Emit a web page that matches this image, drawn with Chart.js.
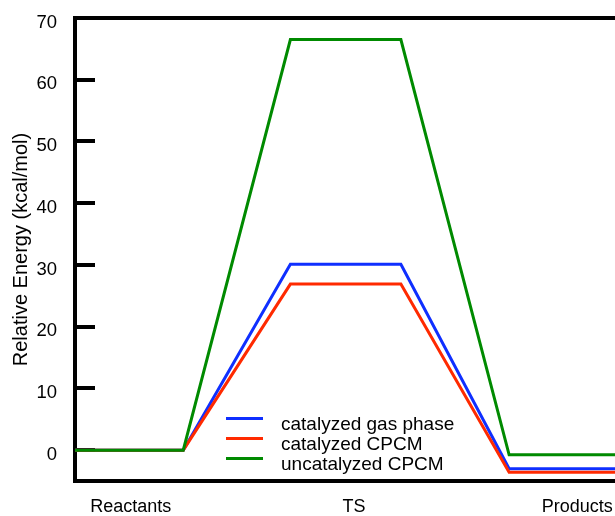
<!DOCTYPE html>
<html>
<head>
<meta charset="utf-8">
<script src="https://cdn.jsdelivr.net/npm/chart.js@4/dist/chart.umd.min.js"></script>
<style>
  html, body { margin: 0; padding: 0; overflow: hidden; background: #fff; }
  #wrap { width: 660px; height: 516px; }
</style>
</head>
<body>
<div id="wrap"><canvas id="c" width="660" height="516"></canvas></div>
<script>
// Reaction stages along the x axis and where their labels sit
const stages = ['Reactants', 'TS', 'Products'];
const stagePositions = [0.5, 2.5, 4.5];

// Reaction coordinate of each vertex of the energy profiles
const reactionCoord = [0, 0.97, 1.93, 2.92, 3.89, 5];

// Relative energies (kcal/mol)
const catalyzedGas    = [0, 0, 30.1, 30.1, -3.0, -3.0];
const catalyzedCPCM   = [0, 0, 26.9, 26.9, -3.6, -3.6];
const uncatalyzedCPCM = [0, 0, 66.5, 66.5, -0.75, -0.75];

const energyTicks = [0, 10, 20, 30, 40, 50, 60, 70];

const seriesNames  = ['catalyzed gas phase', 'catalyzed CPCM', 'uncatalyzed CPCM'];
const seriesColors = ['#0f2fff', '#ff2a00', '#008a00'];
const seriesValues = [catalyzedGas, catalyzedCPCM, uncatalyzedCPCM];

const FONT = '"Liberation Sans", Arial, Helvetica, sans-serif';

// Legend drawn inside the plot area, below the transition-state plateau
const inlineLegend = {
  id: 'inlineLegend',
  afterDatasetsDraw(chart, args, opts) {
    const ctx = chart.ctx;
    ctx.save();
    ctx.font = opts.fontSize + 'px ' + FONT;
    ctx.textBaseline = 'alphabetic';
    ctx.textAlign = 'left';
    seriesNames.forEach((name, i) => {
      const y = opts.top + i * opts.rowGap;
      ctx.strokeStyle = seriesColors[i];
      ctx.lineWidth = 3;
      ctx.lineCap = 'butt';
      ctx.beginPath();
      ctx.moveTo(opts.x, y);
      ctx.lineTo(opts.x + opts.lineLen, y);
      ctx.stroke();
      ctx.fillStyle = '#000';
      ctx.fillText(name, opts.x + opts.lineLen + opts.gap, y + opts.baselineShift);
    });
    ctx.restore();
  }
};

const datasets = seriesNames.map((name, i) => ({
  label: name,
  data: reactionCoord.map((x, j) => ({ x: x, y: seriesValues[i][j] })),
  borderColor: seriesColors[i],
  backgroundColor: seriesColors[i],
  borderWidth: 3,
  pointRadius: 0,
  tension: 0,
  fill: false,
  order: 2 - i   // green drawn on top where the profiles overlap
}));

new Chart(document.getElementById('c'), {
  type: 'line',
  data: { datasets: datasets },
  options: {
    responsive: false,
    animation: false,
    layout: { padding: { top: 18, right: 27, bottom: 0, left: 0 } },
    plugins: {
      legend: { display: false },
      tooltip: { enabled: false },
      inlineLegend: { x: 226, lineLen: 37, gap: 18, top: 418.5, rowGap: 20, fontSize: 19, baselineShift: 11 }
    },
    scales: {
      x: {
        type: 'linear',
        position: 'bottom',
        min: 0,
        max: 5,
        grid: { display: false, drawTicks: false },
        border: { display: true, color: '#000', width: 4 },
        ticks: {
          autoSkip: false,
          maxRotation: 0,
          padding: 15,
          color: '#000',
          font: { family: FONT, size: 18 },
          callback: (v, i) => stages[i]
        },
        afterBuildTicks: s => { s.ticks = stagePositions.map(v => ({ value: v })); },
        afterFit: s => { s.height = 35; s.paddingLeft = 0; s.paddingRight = 0; }
      },
      xTop: {
        type: 'linear',
        position: 'top',
        min: 0,
        max: 5,
        grid: { display: false, drawTicks: false },
        border: { display: true, color: '#000', width: 4 },
        ticks: { display: false },
        afterFit: s => { s.height = 0; }
      },
      y: {
        min: -5,
        max: 70,
        grid: {
          display: true,
          drawOnChartArea: false,
          drawTicks: true,
          tickLength: -20,   // tick marks point into the plot
          tickWidth: 4,
          tickColor: '#000',
          lineWidth: 4,
          color: '#000'
        },
        border: { display: true, color: '#000', width: 4 },
        ticks: {
          padding: 38,
          labelOffset: 4.5,
          color: '#000',
          font: { family: FONT, size: 18.5 }
        },
        afterBuildTicks: s => { s.ticks = energyTicks.map(v => ({ value: v })); },
        afterFit: s => { s.width = 75; s.paddingTop = 0; s.paddingBottom = 0; },
        title: {
          display: true,
          text: 'Relative Energy (kcal/mol)',
          color: '#000',
          font: { family: FONT, size: 20 },
          padding: { top: 9, bottom: 0 }
        }
      }
    }
  },
  plugins: [inlineLegend]
});
</script>
</body>
</html>
